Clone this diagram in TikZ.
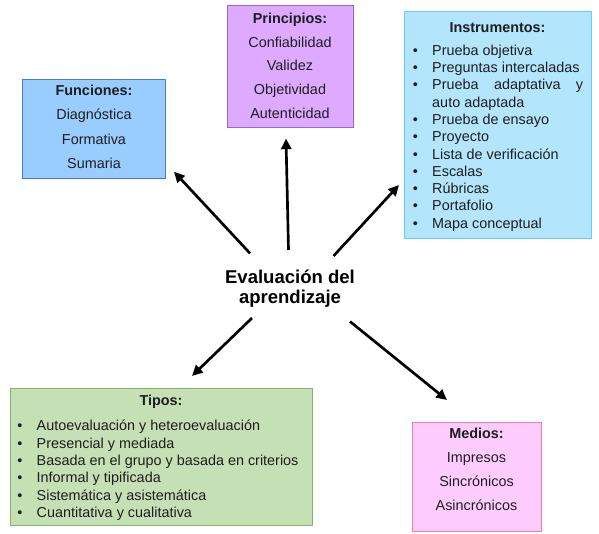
\documentclass[tikz,border=0pt]{standalone}
\usepackage{fontspec}
\setmainfont{Liberation Sans}
\usetikzlibrary{arrows.meta}
\definecolor{funfill}{HTML}{99CCFF}
\definecolor{fundraw}{HTML}{4A7EBB}
\definecolor{prifill}{HTML}{DDAAFF}
\definecolor{pridraw}{HTML}{9966CC}
\definecolor{insfill}{HTML}{B3E5FC}
\definecolor{insdraw}{HTML}{66CCFF}
\definecolor{tipfill}{HTML}{C5E0B4}
\definecolor{tipdraw}{HTML}{82B366}
\definecolor{medfill}{HTML}{FFCCFF}
\definecolor{meddraw}{HTML}{FF7AA0}
\definecolor{txt}{HTML}{1E1E1E}
\newcommand{\blt}{\makebox[14.6pt][l]{\textbullet}}
\newcommand{\nob}{\makebox[14.6pt][l]{}}
\begin{document}
\begin{tikzpicture}[x=0.75pt,y=-0.75pt,
  box/.style={draw, line width=0.75pt, inner sep=0pt, outer sep=0pt},
  ttl/.style={anchor=base, inner sep=0pt, text=txt, font=\fontsize{10.8}{13}\selectfont\bfseries},
  itm/.style={anchor=base, inner sep=0pt, text=txt, font=\fontsize{10.8}{13}\selectfont},
  li/.style={anchor=base west, inner sep=0pt, text=txt, font=\fontsize{10.8}{13}\selectfont},
  ctr/.style={anchor=base, inner sep=0pt, text=black, font=\fontsize{13.9}{15}\selectfont\bfseries},
  arr/.style={line width=2pt, -{Triangle[length=8pt,width=7.5pt]}}]
\useasboundingbox (0,0) rectangle (599,534);

% boxes
\node[box, fill=funfill, draw=fundraw, minimum width=107.25pt, minimum height=74.25pt] (fun) at (94,129.5) {};
\node[box, fill=prifill, draw=pridraw, minimum width=94.5pt, minimum height=91.5pt] (pri) at (290,67) {};
\node[box, fill=insfill, draw=insdraw, minimum width=140.25pt, minimum height=170.25pt] (ins) at (497.5,125.5) {};
\node[box, fill=tipfill, draw=tipdraw, minimum width=226.5pt, minimum height=102.75pt] (tip) at (161,456.5) {};
\node[box, fill=medfill, draw=meddraw, minimum width=96.75pt, minimum height=81.75pt] (med) at (476.5,476.5) {};

% Funciones
\node[ttl] (fun-t) at (94,95.5) {Funciones:};
\foreach \t [count=\i] in {Diagnóstica,Formativa,Sumaria}
  \node[itm] (fun-\i) at (94,{95.5+24.5*\i}) {\t};

% Principios
\node[ttl] (pri-t) at (290,23.5) {Principios:};
\foreach \t [count=\i] in {Confiabilidad,Validez,Objetividad,Autenticidad}
  \node[itm] (pri-\i) at (290,{23.5+23.75*\i}) {\t};

% Medios
\node[ttl] (med-t) at (476.5,438.5) {Medios:};
\foreach \t [count=\i] in {Impresos,Sincrónicos,Asincrónicos}
  \node[itm] (med-\i) at (476.5,{438.5+24*\i}) {\t};

% Instrumentos
\node[ttl] (ins-t) at (497.5,33) {Instrumentos:};
\node[li] (ins-1) at (412.5,55.3) {\blt Prueba objetiva};
\node[li] (ins-2) at (412.5,72.6) {\blt Preguntas intercaladas};
\node[li] (ins-3) at (412.5,89.9) {\blt\hbox to 113.2pt{Prueba\hfill adaptativa\hfill y}};
\node[li] (ins-4) at (412.5,107.2) {\nob auto adaptada};
\node[li] (ins-5) at (412.5,124.5) {\blt Prueba de ensayo};
\node[li] (ins-6) at (412.5,141.8) {\blt Proyecto};
\node[li] (ins-7) at (412.5,159.1) {\blt Lista de verificación};
\node[li] (ins-8) at (412.5,176.4) {\blt Escalas};
\node[li] (ins-9) at (412.5,193.7) {\blt Rúbricas};
\node[li] (ins-10) at (412.5,211) {\blt Portafolio};
\node[li] (ins-11) at (412.5,228.3) {\blt Mapa conceptual};

% Tipos
\node[ttl] (tip-t) at (161,405) {Tipos:};
\foreach \t [count=\i] in {Autoevaluación y heteroevaluación,Presencial y mediada,Basada en el grupo y basada en criterios,Informal y tipificada,Sistemática y asistemática,Cuantitativa y cualitativa}
  \node[li] (tip-\i) at (17,{430.8+17.3*(\i-1)}) {\blt \t};

% centre
\node[ctr] (c1) at (290,283.5) {Evaluación del};
\node[ctr] (c2) at (290,303.5) {aprendizaje};

% arrow ends
\coordinate (a1s) at (250,253.3);
\coordinate (a1e) at (174,171.7);
\coordinate (a2s) at (288.5,250);
\coordinate (a2e) at (286,138.5);
\coordinate (a3s) at (333.5,256);
\coordinate (a3e) at (399,185);
\coordinate (a4s) at (252,318);
\coordinate (a4e) at (192,376);
\coordinate (a5s) at (350,321.5);
\coordinate (a5e) at (447,400);
\draw[arr] (a1s) -- (a1e);
\draw[arr] (a2s) -- (a2e);
\draw[arr] (a3s) -- (a3e);
\draw[arr] (a4s) -- (a4e);
\draw[arr] (a5s) -- (a5e);
\end{tikzpicture}
\end{document}
